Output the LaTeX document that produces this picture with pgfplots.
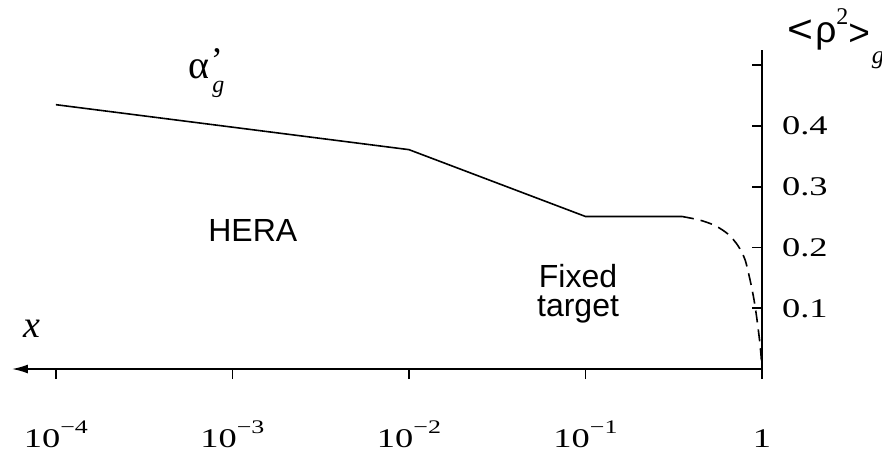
\documentclass[border=0pt]{standalone}
\usepackage{pgfplots}
\pgfplotsset{compat=1.18}
\usetikzlibrary{arrows.meta}
\usepackage{fontspec}
\setmainfont{Liberation Serif}
\setsansfont{Liberation Sans}
% wide serif tick labels
\newcommand\tl[1]{\scalebox{1.35}[1]{\fontsize{13.5}{15}\selectfont #1}}
\newcommand\pow[1]{\tl{10\raisebox{7pt}{\fontsize{9.6}{10}\selectfont −#1}}}

\begin{document}
\begin{tikzpicture}
\useasboundingbox (-6pt,-40.5pt) rectangle (435pt,184.5pt);
\begin{axis}[
  at={(0,0)}, anchor=south west,
  scale only axis, width=375pt, height=159.5pt,
  xmode=log, xmin=5.64e-5, xmax=1, ymin=0, ymax=0.525,
  axis x line=bottom, axis y line=right,
  x axis line style={{Latex[length=8pt,width=4.5pt]}-, line width=0.8pt},
  y axis line style={-, line width=0.8pt},
  xtick={1e-4,1e-3,1e-2,1e-1,1},
  xticklabels={\pow{4},\pow{3},\pow{2},\pow{1},\tl{1}},
  ytick={0.1,0.2,0.3,0.4,0.5},
  yticklabels={\tl{0.1},\tl{0.2},\tl{0.3},\tl{0.4},{}},
  xminorticks=false, yminorticks=false,
  xtick align=outside, ytick align=inside,
  major tick length=5pt,
  tick style={line width=0.8pt, black},
  xticklabel style={anchor=base, yshift=-34pt},
  yticklabel style={xshift=6.5pt},
  clip=false,
]
% solid part of the slope
\addplot[black, line width=0.8pt] coordinates {
  (1e-4,0.435) (1e-2,0.361) (1e-1,0.251) (0.352,0.251)
};
% dashed fall-off towards x = 1
\addplot[black, line width=0.8pt, dash pattern=on 6pt off 3.5pt, smooth] coordinates {
  (0.352,0.251) (0.445,0.245) (0.542,0.236) (0.642,0.222) (0.731,0.203)
  (0.801,0.180) (0.855,0.147) (0.901,0.114) (0.937,0.081) (0.968,0.048)
  (0.987,0.023) (1,0)
};
% alpha' with its subscript set below the prime
\node[anchor=base west, inner sep=0pt, font=\fontsize{20}{20}\selectfont]
  at (rel axis cs:0.2347,0.9100) {α\raisebox{0.35ex}{\fontsize{18}{18}\selectfont\kern0.8pt’}};
\node[anchor=base west, inner sep=0pt, font=\fontsize{12}{12}\selectfont\itshape]
  at (rel axis cs:0.2667,0.868) {g};
\node[anchor=base west, inner sep=0pt, font=\sffamily\fontsize{16}{16}\selectfont]
  at (rel axis cs:0.2613,0.3997) {HERA};
\node[anchor=center, inner sep=0pt, align=center, font=\sffamily\fontsize{16}{14.5}\selectfont]
  at (rel axis cs:0.7547,0.235) {Fixed\\target};
\node[anchor=base west, inner sep=0pt]
  at (rel axis cs:0.0147,0.1003) {\fontsize{19}{19}\selectfont\itshape x};
\node[anchor=base west, inner sep=0pt, font=\sffamily\fontsize{18.5}{18.5}\selectfont]
  at (rel axis cs:1.0333,1.022) {\scalebox{1.2}[1.05]{<}\kern1pt ρ\raisebox{0.95ex}{\rmfamily\fontsize{12}{12}\selectfont 2}\raisebox{-1.5pt}{>}\raisebox{-10.5pt}{\rmfamily\fontsize{12.5}{12.5}\selectfont\kern1pt\textit{g}}};
\end{axis}
\end{tikzpicture}
\end{document}
